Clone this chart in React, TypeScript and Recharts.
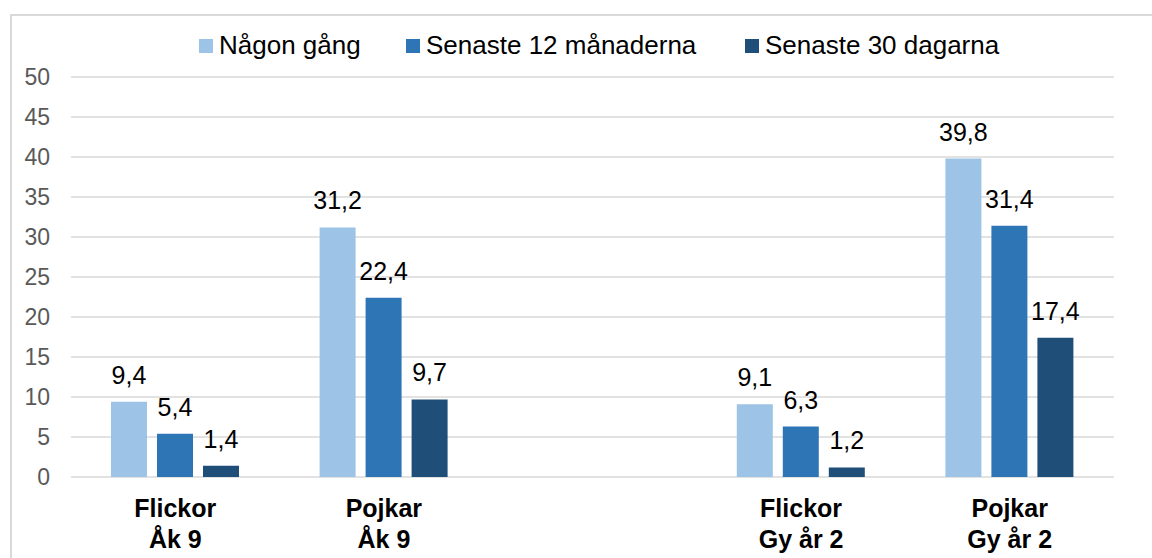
import { Bar, BarChart, CartesianGrid, LabelList, XAxis, YAxis } from "recharts";

const categories = ["Flickor\nÅk 9", "Pojkar\nÅk 9", "", "Flickor\nGy år 2", "Pojkar\nGy år 2"];
const nagonGang = [9.4, 31.2, null, 9.1, 39.8];
const senaste12 = [5.4, 22.4, null, 6.3, 31.4];
const senaste30 = [1.4, 9.7, null, 1.2, 17.4];
const yTicks = [0, 5, 10, 15, 20, 25, 30, 35, 40, 45, 50];

const series = [
  { key: "nagon", label: "Någon gång", color: "#9DC3E6", legendX: 199 },
  { key: "m12", label: "Senaste 12 månaderna", color: "#2E75B6", legendX: 406 },
  { key: "d30", label: "Senaste 30 dagarna", color: "#1F4E79", legendX: 745 },
];

const data = categories.map((c, i) => ({
  cat: c,
  nagon: nagonGang[i],
  m12: senaste12[i],
  d30: senaste30[i],
}));

const FONT = '"Liberation Sans", Arial, sans-serif';

const fmtComma = (v: unknown) => (v == null || v === "" ? "" : String(v).replace(".", ","));

function CatTick({ x, y, payload }: any) {
  const lines = String(payload.value).split("\n");
  return (
    <text x={x} y={y} textAnchor="middle" fontFamily={FONT} fontWeight="bold" fontSize={25} fill="#000">
      {lines.map((l, i) => (
        <tspan key={i} x={x} dy={i === 0 ? 40 : 31}>
          {l}
        </tspan>
      ))}
    </text>
  );
}

export default function App() {
  return (
    <div style={{ position: "fixed", left: 0, top: 0, width: 1152, height: 558, background: "#fff", overflow: "hidden" }}>
      <div
        style={{
          position: "absolute",
          left: 10,
          top: 14,
          width: 1200,
          height: 600,
          borderTop: "2px solid #d9d9d9",
          borderLeft: "2px solid #d9d9d9",
        }}
      />
      {series.map((s) => (
        <div
          key={s.key}
          style={{
            position: "absolute",
            left: s.legendX,
            top: 32,
            display: "flex",
            alignItems: "center",
            fontFamily: FONT,
            fontSize: 26,
            lineHeight: "26px",
            color: "#000",
            whiteSpace: "nowrap",
          }}
        >
          <span style={{ display: "inline-block", width: 14, height: 14, background: s.color, marginRight: 6, marginTop: 1 }} />
          {s.label}
        </div>
      ))}
      <div style={{ position: "absolute", left: 0, top: 0 }}>
        <BarChart
          width={1152}
          height={558}
          data={data}
          margin={{ top: 77, right: 38, bottom: 0, left: 0 }}
          barSize={36}
          barGap={10}
        >
          <CartesianGrid horizontal vertical={false} stroke="#d9d9d9" strokeWidth={1.5} />
          <XAxis
            dataKey="cat"
            height={81}
            axisLine={false}
            tickLine={false}
            tickSize={0}
            tickMargin={0}
            interval={0}
            tick={<CatTick />}
          />
          <YAxis
            domain={[0, 50]}
            ticks={yTicks}
            width={71}
            axisLine={false}
            tickLine={false}
            tickSize={6}
            tickMargin={15}
            tick={{ fill: "#595959", fontSize: 23, fontFamily: FONT }}
          />
          {series.map((s) => (
            <Bar key={s.key} dataKey={s.key} name={s.label} fill={s.color} isAnimationActive={false}>
              <LabelList
                dataKey={s.key}
                position="top"
                offset={18}
                formatter={fmtComma}
                fill="#000"
                fontSize={25}
                fontFamily={FONT}
              />
            </Bar>
          ))}
        </BarChart>
      </div>
    </div>
  );
}
